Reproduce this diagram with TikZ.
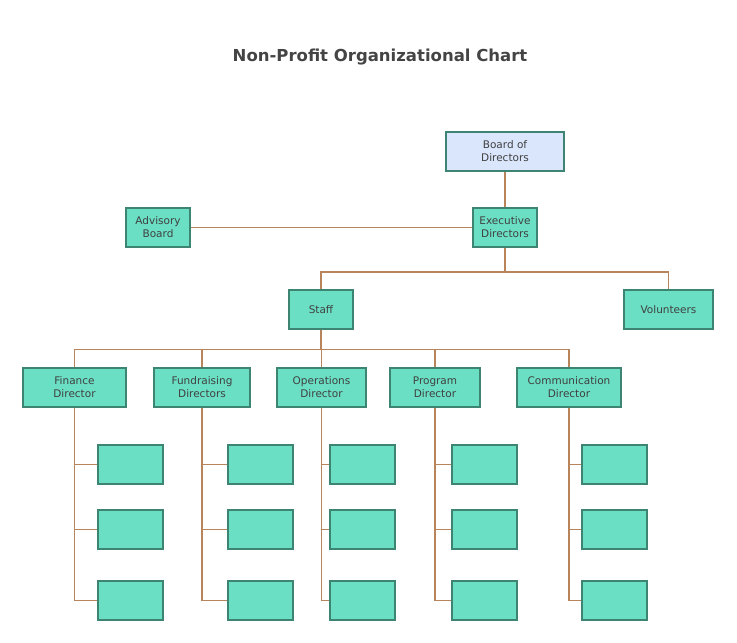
\documentclass[tikz,border=0pt]{standalone}
\usepackage{fontspec}
\setmainfont{DejaVu Sans}
\definecolor{boxfill}{HTML}{6ADFC4}
\definecolor{boxdraw}{HTML}{3D8473}
\definecolor{topfill}{HTML}{DAE6FB}
\definecolor{linec}{HTML}{B8845C}
\definecolor{titlec}{HTML}{444444}
\begin{document}
\begin{tikzpicture}[x=1pt,y=-1pt,
  box/.style={draw=boxdraw,fill=boxfill,line width=1.6pt,minimum height=39pt,inner sep=1pt,align=center,font=\fontsize{10.5}{13}\selectfont,text=black!75},
  leaf/.style={box,minimum width=65pt},
  conn/.style={draw=linec,line width=1.6pt}]
\useasboundingbox (0,0) rectangle (737,643);
\node[font=\bfseries\fontsize{16.5}{20}\selectfont,text=titlec] (title) at (380,57) {Non-Profit Organizational Chart};
\node[box,fill=topfill,minimum width=118pt] (board) at (505,151.5) {Board of\\Directors};
\node[box,minimum width=64pt] (exec) at (505,227.5) {Executive\\Directors};
\node[box,minimum width=64pt] (adv) at (158,227.5) {Advisory\\Board};
\node[box,minimum width=64pt] (staff) at (321,309.5) {Staff};
\node[box,minimum width=89pt] (vol) at (668.5,309.5) {Volunteers};
\node[box,minimum width=103pt] (d1) at (74.5,387.5) {Finance\\Director};
\node[box,minimum width=96pt] (d2) at (202,387.5) {Fundraising\\Directors};
\node[box,minimum width=89pt] (d3) at (321.5,387.5) {Operations\\Director};
\node[box,minimum width=90pt] (d4) at (435,387.5) {Program\\Director};
\node[box,minimum width=104pt] (d5) at (569,387.5) {Communication\\Director};
\foreach \i/\x in {1/130.5,2/260.5,3/362.5,4/484.5,5/614.5}{
  \node[leaf] (l\i a) at (\x,464.5) {};
  \node[leaf] (l\i b) at (\x,529.5) {};
  \node[leaf] (l\i c) at (\x,600.5) {};
}
\begin{scope}[on background layer/.try]
\draw[conn] (board) -- (exec);
\draw[conn] (adv) -- (exec);
\draw[conn] (exec.south) -- ++(0,24) -| (staff.north);
\draw[conn] (exec.south) -- ++(0,24) -| (vol.north);
\foreach \i in {1,...,5}{
  \draw[conn] (staff.south) -- ++(0,19.5) -| (d\i.north);
}
\draw[conn] (d1.south) |- (l1c.west); \draw[conn] (d1.south) |- (l1a.west); \draw[conn] (d1.south) |- (l1b.west);
\draw[conn] (d2.south) |- (l2c.west); \draw[conn] (d2.south) |- (l2a.west); \draw[conn] (d2.south) |- (l2b.west);
\draw[conn] (d3.south) |- (l3c.west); \draw[conn] (d3.south) |- (l3a.west); \draw[conn] (d3.south) |- (l3b.west);
\draw[conn] (d4.south) |- (l4c.west); \draw[conn] (d4.south) |- (l4a.west); \draw[conn] (d4.south) |- (l4b.west);
\draw[conn] (d5.south) |- (l5c.west); \draw[conn] (d5.south) |- (l5a.west); \draw[conn] (d5.south) |- (l5b.west);
\end{scope}
\end{tikzpicture}
\end{document}
